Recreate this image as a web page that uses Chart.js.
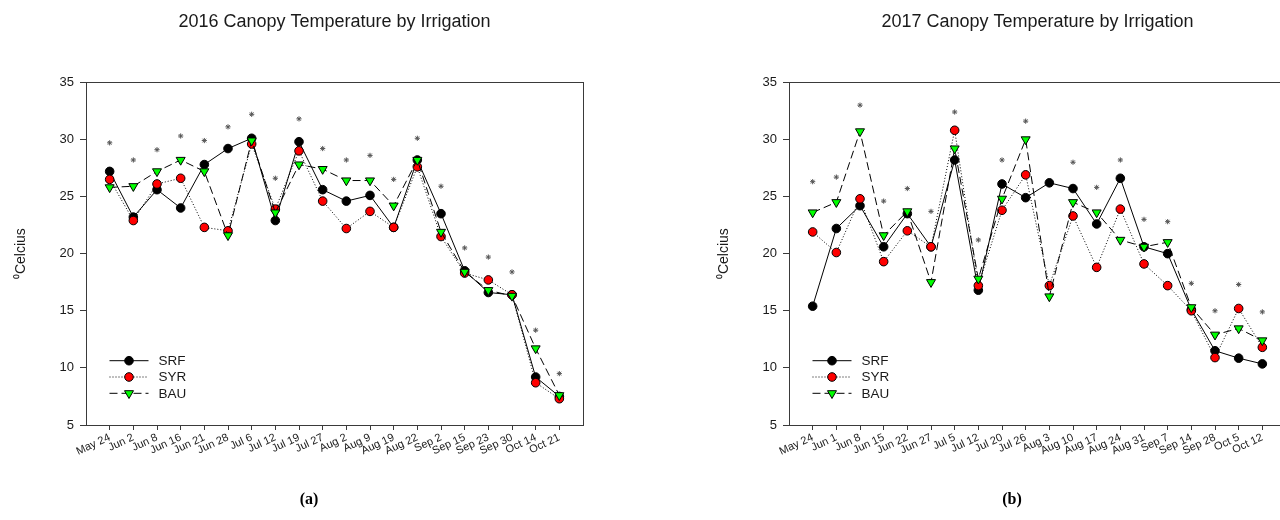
<!DOCTYPE html>
<html>
<head>
<meta charset="utf-8">
<title>Canopy Temperature by Irrigation</title>
<script src="https://cdn.jsdelivr.net/npm/chart.js@4.4.1/dist/chart.umd.min.js"></script>
<style>
  html, body { margin: 0; padding: 0; background: #fff; width: 1280px; height: 520px; overflow: hidden; position: relative; }
  .panel { position: absolute; top: 0; width: 640px; height: 520px; }
  .panel canvas { display: block; }
  .tag { position: absolute; top: 490px; line-height: 20px; font: bold 16px "Liberation Serif", "DejaVu Serif", serif; color: #000; transform: translateX(-50%); }
</style>
</head>
<body>
<div class="panel" style="left:0px"><canvas id="c2016" width="640" height="520"></canvas></div>
<div class="panel" style="left:703px"><canvas id="c2017" width="640" height="520"></canvas></div>
<div class="tag" style="left:309px">(a)</div>
<div class="tag" style="left:1012px">(b)</div>
<script>
// ---- data -----------------------------------------------------------
const seriesNames = ['SRF', 'SYR', 'BAU'];
const yTicks = [5, 10, 15, 20, 25, 30, 35];

const dates2016 = ['May 24','Jun 2','Jun 8','Jun 16','Jun 21','Jun 28','Jul 6','Jul 12','Jul 19','Jul 27',
                   'Aug 2','Aug 9','Aug 19','Aug 22','Sep 2','Sep 15','Sep 23','Sep 30','Oct 14','Oct 21'];
const srf2016 = [27.2,23.2,25.6,24.0,27.8,29.2,30.1,22.9,29.8,25.6,24.6,25.1,22.3,28.2,23.5,18.5,16.6,16.4,9.2,7.5];
const syr2016 = [26.5,22.9,26.1,26.6,22.3,22.0,29.6,23.9,29.0,24.6,22.2,23.7,22.3,27.6,21.5,18.3,17.7,16.4,8.7,7.3];
const bau2016 = [25.8,25.9,27.2,28.2,27.2,21.6,29.9,23.6,27.8,27.4,26.4,26.4,24.2,28.2,21.9,18.4,16.8,16.3,11.7,7.6];
// significance asterisks (null = no asterisk on that date)
const sig2016 = [29.7,28.2,29.1,30.3,29.9,31.1,32.2,26.6,31.8,29.2,28.2,28.6,26.5,30.1,25.9,20.5,19.7,18.4,13.3,9.5];

const dates2017 = ['May 24','Jun 1','Jun 8','Jun 15','Jun 22','Jun 27','Jul 5','Jul 12','Jul 20','Jul 26',
                   'Aug 3','Aug 10','Aug 17','Aug 24','Aug 31','Sep 7','Sep 14','Sep 28','Oct 5','Oct 12'];
const srf2017 = [15.4,22.2,24.2,20.6,23.5,20.6,28.2,16.8,26.1,24.9,26.2,25.7,22.6,26.6,20.6,20.0,15.1,11.5,10.85,10.35];
const syr2017 = [21.9,20.1,24.8,19.3,22.0,20.6,30.8,17.2,23.8,26.9,17.2,23.3,18.8,23.9,19.1,17.2,15.0,10.9,15.2,11.8];
const bau2017 = [23.6,24.5,30.7,21.6,23.7,17.5,29.2,17.8,24.8,30.0,16.25,24.5,23.6,21.2,20.6,21.0,15.3,12.9,13.45,12.4];
const sig2017 = [26.3,26.7,33.0,24.6,25.7,23.7,32.4,21.2,28.2,31.6,null,28.0,25.8,28.2,23.0,22.8,17.4,15.0,17.3,14.9];

// ---- helpers --------------------------------------------------------
const FONT = '"Liberation Sans", Arial, Helvetica, sans-serif';
const INK = '#1a1a1a';

function toPoints(values) {
  return values.map((v, i) => ({ x: i, y: v })).filter(p => p.y !== null);
}

// Series look: solid/black circles, dotted/red circles, dashed/green down-triangles
const seriesStyle = {
  SRF: { borderDash: [], pointStyle: 'circle', pointRadius: 4.3, pointRotation: 0, pointBackgroundColor: '#000', order: 2 },
  SYR: { borderDash: [1, 2], pointStyle: 'circle', pointRadius: 4.3, pointRotation: 0, pointBackgroundColor: '#ff0000', order: 1 },
  BAU: { borderDash: [8, 4], pointStyle: 'triangle', pointRadius: 5.2, pointRotation: 180, pointBackgroundColor: '#00ff00', order: 0 }
};

// Box around the plotting area
const frame = {
  id: 'frame',
  beforeDatasetsDraw(chart) {
    const { ctx, chartArea: a } = chart;
    ctx.save();
    ctx.strokeStyle = '#3a3a3a';
    ctx.lineWidth = 1;
    ctx.strokeRect(Math.round(a.left) + 0.5, Math.round(a.top) + 0.5, Math.round(a.right - a.left), Math.round(a.bottom - a.top));
    ctx.restore();
  }
};

// Legend drawn inside the lower-left corner of the plot, line + marker per series
const insetLegend = {
  id: 'insetLegend',
  afterDatasetsDraw(chart) {
    const { ctx, chartArea: a } = chart;
    ctx.save();
    seriesNames.forEach((name, row) => {
      const ds = chart.data.datasets.find(d => d.label === name);
      if (!ds) return;
      const y = a.bottom - 64.3 + row * 16.3;
      const x0 = a.left + 23.5, x1 = a.left + 62.5, xm = a.left + 43;
      ctx.strokeStyle = ds.borderColor;
      ctx.lineWidth = ds.borderWidth;
      ctx.setLineDash(ds.borderDash || []);
      ctx.beginPath();
      ctx.moveTo(x0, y);
      ctx.lineTo(x1, y);
      ctx.stroke();
      ctx.setLineDash([]);
      ctx.fillStyle = ds.pointBackgroundColor;
      ctx.strokeStyle = '#000';
      ctx.lineWidth = 1;
      Chart.helpers.drawPoint(ctx, {
        pointStyle: ds.pointStyle, radius: ds.pointRadius, rotation: ds.pointRotation, borderWidth: 1
      }, xm, y);
      ctx.fillStyle = INK;
      ctx.font = '13.5px ' + FONT;
      ctx.textAlign = 'left';
      ctx.textBaseline = 'middle';
      ctx.fillText(name, a.left + 72.5, y + 0.5);
    });
    ctx.restore();
  }
};

function buildChart(canvasId, titleText, dates, srf, syr, bau, sig) {
  const values = { SRF: srf, SYR: syr, BAU: bau };
  const datasets = seriesNames.map(name => {
    const s = seriesStyle[name];
    return {
      label: name,
      data: toPoints(values[name]),
      borderColor: '#000',
      borderWidth: 1,
      borderDash: s.borderDash,
      pointStyle: s.pointStyle,
      pointRadius: s.pointRadius,
      pointRotation: s.pointRotation,
      pointBackgroundColor: s.pointBackgroundColor,
      pointBorderColor: '#000',
      pointBorderWidth: 1,
      tension: 0,
      fill: false,
      order: s.order
    };
  });
  datasets.push({
    label: 'significance',
    data: toPoints(sig),
    showLine: false,
    pointStyle: 'star',
    pointRadius: 2.6,
    pointBorderColor: '#555',
    pointBorderWidth: 1,
    borderColor: '#555',
    order: 3
  });

  return new Chart(document.getElementById(canvasId), {
    type: 'line',
    data: { datasets },
    options: {
      responsive: false,
      animation: false,
      devicePixelRatio: 1,
      layout: { padding: { left: 0, right: 57, top: 0, bottom: 0 } },
      plugins: {
        legend: { display: false },
        tooltip: { enabled: false },
        title: {
          display: true,
          text: titleText,
          fullSize: false,
          color: INK,
          font: { family: FONT, size: 18, weight: 'normal' },
          padding: { top: 11.5, bottom: 49.2 }
        }
      },
      scales: {
        x: {
          type: 'linear',
          min: -1,
          max: dates.length,
          afterBuildTicks: scale => { scale.ticks = dates.map((_, i) => ({ value: i })); },
          afterFit: scale => { scale.height = 95; },
          border: { display: true, color: '#3a3a3a', width: 1 },
          grid: { drawOnChartArea: false, drawTicks: true, tickLength: 5, color: '#3a3a3a' },
          ticks: {
            autoSkip: false,
            minRotation: 25,
            maxRotation: 25,
            padding: 1,
            color: INK,
            font: { family: FONT, size: 11 },
            callback: v => dates[v]
          }
        },
        y: {
          min: yTicks[0],
          max: yTicks[yTicks.length - 1],
          afterBuildTicks: scale => { scale.ticks = yTicks.map(v => ({ value: v })); },
          afterFit: scale => { scale.width = 86; },
          border: { display: true, color: '#3a3a3a', width: 1 },
          grid: { drawOnChartArea: false, drawTicks: true, tickLength: 6, color: '#3a3a3a' },
          ticks: {
            padding: 6,
            color: INK,
            font: { family: FONT, size: 13 }
          },
          title: {
            display: true,
            text: '\u2070Celcius',
            color: INK,
            font: { family: FONT, size: 14 },
            padding: { top: 13, bottom: 0 }
          }
        }
      }
    },
    plugins: [frame, insetLegend]
  });
}

buildChart('c2016', '2016 Canopy Temperature by Irrigation', dates2016, srf2016, syr2016, bau2016, sig2016);
buildChart('c2017', '2017 Canopy Temperature by Irrigation', dates2017, srf2017, syr2017, bau2017, sig2017);
</script>
</body>
</html>
